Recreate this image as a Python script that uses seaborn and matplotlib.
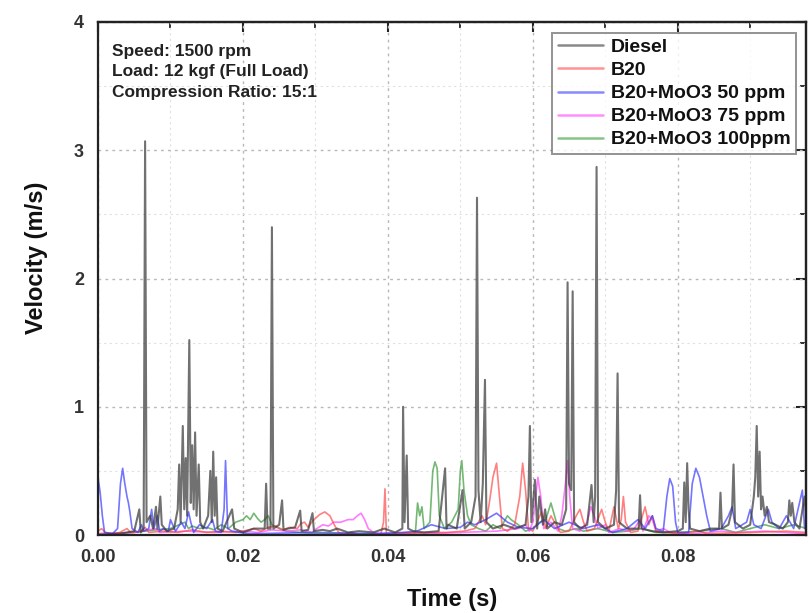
import numpy as np
import pandas as pd
import matplotlib
matplotlib.use("Agg")
import matplotlib.pyplot as plt
from matplotlib.ticker import MultipleLocator, FormatStrFormatter
from matplotlib.lines import Line2D
import seaborn as sns

series_names = ["Diesel", "B20", "B20+MoO3 50 ppm", "B20+MoO3 75 ppm", "B20+MoO3 100ppm"]
series_colors = ["#3a3a3a", "#ff4a4a", "#3a3aff", "#ff44ff", "#3a9a3a"]

diesel_t = [0.0000, 0.0030, 0.0050, 0.0057, 0.0059, 0.0063, 0.0065, 0.0067, 0.0072, 0.0076, 0.0080, 0.0082,
            0.0086, 0.0088, 0.0095, 0.0105, 0.0110, 0.0112, 0.0114, 0.0117, 0.0119, 0.0121, 0.0123, 0.0126,
            0.0128, 0.0130, 0.0132, 0.0134, 0.0136, 0.0139, 0.0141, 0.0145, 0.0152, 0.0155, 0.0157, 0.0159,
            0.0161, 0.0163, 0.0165, 0.0172, 0.0185, 0.0188, 0.0200, 0.0215, 0.0230, 0.0232, 0.0234, 0.0238,
            0.0240, 0.0242, 0.0250, 0.0254, 0.0256, 0.0262, 0.0272, 0.0279, 0.0281, 0.0290, 0.0296, 0.0298,
            0.0310, 0.0320, 0.0330, 0.0345, 0.0360, 0.0380, 0.0395, 0.0410, 0.0420, 0.0421, 0.0423, 0.0426,
            0.0428, 0.0435, 0.0450, 0.0470, 0.0479, 0.0481, 0.0483, 0.0495, 0.0503, 0.0506, 0.0515, 0.0521,
            0.0523, 0.0525, 0.0528, 0.0531, 0.0534, 0.0536, 0.0545, 0.0560, 0.0575, 0.0590, 0.0594, 0.0596,
            0.0598, 0.0603, 0.0606, 0.0609, 0.0614, 0.0617, 0.0620, 0.0630, 0.0640, 0.0646, 0.0648, 0.0650,
            0.0653, 0.0655, 0.0657, 0.0665, 0.0675, 0.0681, 0.0684, 0.0686, 0.0688, 0.0690, 0.0700, 0.0712,
            0.0715, 0.0717, 0.0719, 0.0730, 0.0740, 0.0746, 0.0748, 0.0750, 0.0765, 0.0780, 0.0800, 0.0807,
            0.0809, 0.0811, 0.0813, 0.0815, 0.0817, 0.0830, 0.0845, 0.0857, 0.0859, 0.0861, 0.0870, 0.0875,
            0.0877, 0.0879, 0.0890, 0.0900, 0.0905, 0.0907, 0.0909, 0.0911, 0.0913, 0.0915, 0.0917, 0.0920,
            0.0923, 0.0926, 0.0935, 0.0945, 0.0952, 0.0954, 0.0956, 0.0958, 0.0961, 0.0968, 0.0975, 0.0978]
diesel_v = [0.00, 0.01, 0.03, 0.20, 0.02, 0.05, 3.07, 0.10, 0.15, 0.05, 0.22, 0.05,
            0.30, 0.08, 0.03, 0.05, 0.20, 0.55, 0.10, 0.85, 0.20, 0.60, 0.15, 1.52,
            0.25, 0.70, 0.20, 0.80, 0.15, 0.55, 0.10, 0.05, 0.15, 0.50, 0.10, 0.65,
            0.15, 0.45, 0.05, 0.03, 0.20, 0.05, 0.02, 0.05, 0.05, 0.40, 0.05, 0.05,
            2.40, 0.05, 0.08, 0.27, 0.04, 0.05, 0.06, 0.19, 0.03, 0.04, 0.17, 0.03,
            0.04, 0.03, 0.05, 0.02, 0.03, 0.02, 0.05, 0.02, 0.05, 1.00, 0.10, 0.62,
            0.05, 0.03, 0.02, 0.03, 0.52, 0.05, 0.08, 0.05, 0.35, 0.05, 0.10, 0.30,
            2.63, 0.35, 0.10, 0.40, 1.21, 0.10, 0.05, 0.08, 0.05, 0.08, 0.30, 0.85,
            0.10, 0.43, 0.05, 0.30, 0.08, 0.20, 0.05, 0.10, 0.08, 0.20, 1.97, 0.40,
            0.35, 1.90, 0.10, 0.05, 0.08, 0.39, 0.10, 0.30, 2.87, 0.10, 0.05, 0.08,
            0.35, 1.26, 0.10, 0.05, 0.05, 0.05, 0.31, 0.05, 0.03, 0.02, 0.03, 0.05,
            0.41, 0.10, 0.56, 0.20, 0.05, 0.03, 0.05, 0.05, 0.33, 0.05, 0.08, 0.20,
            0.55, 0.10, 0.05, 0.08, 0.30, 0.45, 0.85, 0.30, 0.65, 0.20, 0.30, 0.15,
            0.22, 0.10, 0.08, 0.05, 0.10, 0.27, 0.15, 0.25, 0.10, 0.05, 0.30, 0.10]

b20_t = [0.0000, 0.0005, 0.0010, 0.0020, 0.0030, 0.0040, 0.0045, 0.0060, 0.0065, 0.0070, 0.0090, 0.0110,
         0.0130, 0.0150, 0.0170, 0.0190, 0.0200, 0.0215, 0.0225, 0.0235, 0.0245, 0.0255, 0.0265, 0.0275,
         0.0280, 0.0285, 0.0290, 0.0295, 0.0300, 0.0306, 0.0313, 0.0320, 0.0326, 0.0332, 0.0340, 0.0350,
         0.0360, 0.0390, 0.0394, 0.0396, 0.0398, 0.0410, 0.0450, 0.0480, 0.0505, 0.0520, 0.0530, 0.0535,
         0.0540, 0.0545, 0.0550, 0.0554, 0.0558, 0.0565, 0.0575, 0.0582, 0.0586, 0.0590, 0.0594, 0.0600,
         0.0606, 0.0612, 0.0618, 0.0625, 0.0630, 0.0638, 0.0650, 0.0660, 0.0665, 0.0670, 0.0675, 0.0685,
         0.0695, 0.0700, 0.0705, 0.0712, 0.0718, 0.0722, 0.0725, 0.0728, 0.0735, 0.0745, 0.0755, 0.0760,
         0.0765, 0.0770, 0.0800, 0.0830, 0.0840, 0.0900, 0.0950, 0.0978]
b20_v = [0.03, 0.05, 0.02, 0.01, 0.02, 0.05, 0.02, 0.03, 0.06, 0.02, 0.03, 0.02,
         0.04, 0.02, 0.03, 0.02, 0.03, 0.05, 0.03, 0.06, 0.07, 0.04, 0.06, 0.05,
         0.09, 0.10, 0.06, 0.10, 0.13, 0.16, 0.18, 0.15, 0.08, 0.02, 0.01, 0.02,
         0.00, 0.00, 0.10, 0.36, 0.00, 0.01, 0.02, 0.02, 0.03, 0.05, 0.15, 0.08,
         0.25, 0.45, 0.56, 0.30, 0.05, 0.03, 0.08, 0.30, 0.56, 0.35, 0.05, 0.03,
         0.10, 0.18, 0.05, 0.15, 0.10, 0.02, 0.03, 0.15, 0.20, 0.10, 0.03, 0.05,
         0.20, 0.10, 0.03, 0.22, 0.05, 0.12, 0.30, 0.10, 0.02, 0.03, 0.22, 0.08,
         0.15, 0.03, 0.01, 0.03, 0.01, 0.02, 0.03, 0.02]

b50_t = [0.0000, 0.0003, 0.0006, 0.0009, 0.0020, 0.0027, 0.0031, 0.0034, 0.0037, 0.0040, 0.0042, 0.0044,
         0.0047, 0.0055, 0.0060, 0.0063, 0.0070, 0.0074, 0.0077, 0.0082, 0.0085, 0.0090, 0.0097, 0.0100,
         0.0103, 0.0107, 0.0115, 0.0120, 0.0125, 0.0128, 0.0132, 0.0140, 0.0150, 0.0158, 0.0162, 0.0170,
         0.0174, 0.0176, 0.0179, 0.0185, 0.0195, 0.0210, 0.0300, 0.0380, 0.0420, 0.0440, 0.0460, 0.0480,
         0.0500, 0.0510, 0.0520, 0.0535, 0.0550, 0.0565, 0.0580, 0.0600, 0.0615, 0.0630, 0.0650, 0.0670,
         0.0690, 0.0710, 0.0730, 0.0745, 0.0755, 0.0765, 0.0770, 0.0780, 0.0785, 0.0789, 0.0793, 0.0797,
         0.0800, 0.0815, 0.0820, 0.0825, 0.0830, 0.0835, 0.0840, 0.0845, 0.0860, 0.0870, 0.0875, 0.0880,
         0.0895, 0.0900, 0.0905, 0.0915, 0.0925, 0.0930, 0.0940, 0.0950, 0.0960, 0.0972, 0.0975, 0.0978]
b50_v = [0.45, 0.33, 0.15, 0.02, 0.01, 0.05, 0.40, 0.52, 0.40, 0.30, 0.25, 0.18,
         0.05, 0.02, 0.08, 0.03, 0.05, 0.20, 0.05, 0.15, 0.03, 0.05, 0.03, 0.12,
         0.08, 0.03, 0.10, 0.05, 0.18, 0.10, 0.02, 0.08, 0.05, 0.12, 0.03, 0.02,
         0.20, 0.58, 0.05, 0.03, 0.02, 0.01, 0.02, 0.01, 0.02, 0.03, 0.08, 0.05,
         0.06, 0.10, 0.08, 0.12, 0.17, 0.10, 0.06, 0.05, 0.12, 0.05, 0.10, 0.05,
         0.08, 0.02, 0.05, 0.12, 0.05, 0.15, 0.05, 0.03, 0.30, 0.44, 0.38, 0.10,
         0.02, 0.02, 0.40, 0.52, 0.45, 0.30, 0.15, 0.03, 0.05, 0.15, 0.22, 0.05,
         0.10, 0.20, 0.08, 0.05, 0.20, 0.10, 0.05, 0.15, 0.05, 0.35, 0.05, 0.10]

b75_t = [0.0000, 0.0050, 0.0080, 0.0085, 0.0120, 0.0160, 0.0200, 0.0220, 0.0240, 0.0260, 0.0280, 0.0295,
         0.0302, 0.0310, 0.0318, 0.0325, 0.0335, 0.0345, 0.0352, 0.0358, 0.0363, 0.0368, 0.0373, 0.0380,
         0.0390, 0.0450, 0.0500, 0.0550, 0.0580, 0.0590, 0.0595, 0.0600, 0.0603, 0.0607, 0.0611, 0.0615,
         0.0625, 0.0635, 0.0640, 0.0645, 0.0648, 0.0651, 0.0655, 0.0665, 0.0675, 0.0680, 0.0685, 0.0690,
         0.0700, 0.0705, 0.0720, 0.0730, 0.0740, 0.0748, 0.0752, 0.0760, 0.0765, 0.0770, 0.0780, 0.0790,
         0.0820, 0.0860, 0.0880, 0.0920, 0.0978]
b75_v = [0.01, 0.02, 0.05, 0.02, 0.03, 0.02, 0.03, 0.02, 0.04, 0.03, 0.04, 0.02,
         0.05, 0.08, 0.07, 0.10, 0.10, 0.12, 0.12, 0.15, 0.17, 0.12, 0.05, 0.02,
         0.01, 0.01, 0.02, 0.03, 0.05, 0.08, 0.03, 0.10, 0.25, 0.45, 0.30, 0.05,
         0.10, 0.03, 0.15, 0.40, 0.58, 0.30, 0.05, 0.03, 0.10, 0.22, 0.15, 0.05,
         0.08, 0.02, 0.05, 0.03, 0.05, 0.12, 0.03, 0.15, 0.12, 0.03, 0.05, 0.02,
         0.01, 0.03, 0.02, 0.03, 0.01]

b100_t = [0.0000, 0.0050, 0.0080, 0.0100, 0.0120, 0.0125, 0.0130, 0.0140, 0.0150, 0.0160, 0.0170, 0.0180,
          0.0190, 0.0200, 0.0205, 0.0210, 0.0215, 0.0220, 0.0225, 0.0230, 0.0235, 0.0240, 0.0250, 0.0260,
          0.0280, 0.0300, 0.0400, 0.0438, 0.0441, 0.0444, 0.0447, 0.0450, 0.0458, 0.0462, 0.0465, 0.0468,
          0.0471, 0.0478, 0.0488, 0.0497, 0.0500, 0.0502, 0.0505, 0.0510, 0.0515, 0.0525, 0.0535, 0.0545,
          0.0555, 0.0565, 0.0570, 0.0580, 0.0590, 0.0600, 0.0610, 0.0618, 0.0625, 0.0630, 0.0635, 0.0645,
          0.0660, 0.0670, 0.0690, 0.0710, 0.0730, 0.0750, 0.0770, 0.0800, 0.0830, 0.0860, 0.0880, 0.0900,
          0.0920, 0.0940, 0.0960, 0.0978]
b100_v = [0.01, 0.02, 0.04, 0.05, 0.10, 0.05, 0.07, 0.05, 0.06, 0.04, 0.08, 0.05,
          0.10, 0.12, 0.15, 0.12, 0.17, 0.13, 0.10, 0.12, 0.15, 0.08, 0.05, 0.03,
          0.02, 0.01, 0.01, 0.02, 0.25, 0.15, 0.22, 0.05, 0.10, 0.50, 0.57, 0.52,
          0.15, 0.05, 0.10, 0.20, 0.50, 0.58, 0.35, 0.15, 0.08, 0.05, 0.03, 0.08,
          0.05, 0.15, 0.12, 0.08, 0.03, 0.05, 0.10, 0.12, 0.25, 0.15, 0.05, 0.03,
          0.05, 0.03, 0.05, 0.02, 0.03, 0.05, 0.02, 0.02, 0.03, 0.05, 0.02, 0.05,
          0.08, 0.05, 0.08, 0.05]

all_t = [diesel_t, b20_t, b50_t, b75_t, b100_t]
all_v = [diesel_v, b20_v, b50_v, b75_v, b100_v]

frames = []
for name, t, v in zip(series_names, all_t, all_v):
    frames.append(pd.DataFrame({"Time": t, "Velocity": v, "Fuel": name}))
df = pd.concat(frames, ignore_index=True)

sns.set_theme(style="white")
plt.rcParams["font.family"] = ["Liberation Sans", "DejaVu Sans"]
plt.rcParams["font.weight"] = "bold"

fig = plt.figure(figsize=(8.09, 6.13), dpi=100)
ax = fig.add_axes([98 / 809, 1 - 535 / 613, (806 - 98) / 809, (535 - 22) / 613])

draw_order = ["B20+MoO3 100ppm", "B20+MoO3 75 ppm", "B20", "B20+MoO3 50 ppm", "Diesel"]
palette = dict(zip(series_names, series_colors))
for name in draw_order:
    sub = df[df["Fuel"] == name]
    sns.lineplot(data=sub, x="Time", y="Velocity", color=palette[name], sort=False,
                 estimator=None, lw=1.5 if name == "Diesel" else 1.2,
                 alpha=0.72 if name == "Diesel" else 0.7, ax=ax, legend=False)

ax.set_xlim(0, 0.0977)
ax.set_ylim(0, 4)
ax.xaxis.set_major_locator(MultipleLocator(0.02))
ax.xaxis.set_minor_locator(MultipleLocator(0.01))
ax.yaxis.set_major_locator(MultipleLocator(1))
ax.yaxis.set_minor_locator(MultipleLocator(0.5))
ax.xaxis.set_major_formatter(FormatStrFormatter("%.2f"))

ax.grid(which="major", color="#b8b8b8", linestyle=(0, (2, 3)), linewidth=1.0)
ax.grid(which="minor", color="#e0e0e0", linestyle=(0, (2, 3)), linewidth=0.8)
ax.set_axisbelow(True)

for s in ax.spines.values():
    s.set_visible(True)
    s.set_color("#222222")
    s.set_linewidth(1.6)

ax.tick_params(axis="both", which="major", direction="out", length=7, width=1.5,
               colors="#222222", labelcolor="#333333", labelsize=13, pad=3)
ax.tick_params(axis="both", which="minor", direction="out", length=4, width=1.3, colors="#222222")
for tl in ax.get_xticklabels() + ax.get_yticklabels():
    tl.set_fontweight("bold")

sec_top = ax.secondary_xaxis("top")
sec_top.xaxis.set_major_locator(MultipleLocator(0.02))
sec_top.xaxis.set_minor_locator(MultipleLocator(0.01))
sec_top.tick_params(which="major", direction="in", length=7, width=1.5, labeltop=False, colors="#222222")
sec_top.tick_params(which="minor", direction="in", length=4, width=1.3, colors="#222222")
sec_top.spines["top"].set_linewidth(1.6)
sec_top.spines["top"].set_color("#222222")
ax.tick_params(axis="x", which="both", top=False)
sec_r = ax.secondary_yaxis("right")
sec_r.yaxis.set_major_locator(MultipleLocator(1))
sec_r.yaxis.set_minor_locator(MultipleLocator(0.5))
sec_r.tick_params(which="major", direction="in", length=7, width=1.5, labelright=False, colors="#222222")
sec_r.tick_params(which="minor", direction="in", length=4, width=1.3, colors="#222222")
sec_r.spines["right"].set_linewidth(1.6)
sec_r.spines["right"].set_color("#222222")
ax.tick_params(axis="y", which="both", right=False)

ax.set_xlabel("Time (s)", fontsize=17, fontweight="bold", color="#111111", labelpad=16)
ax.set_ylabel("Velocity (m/s)", fontsize=17, fontweight="bold", color="#111111")
ax.yaxis.set_label_coords(-0.07, 0.54)

ax.text(0.02, 0.957, "Speed: 1500 rpm\nLoad: 12 kgf (Full Load)\nCompression Ratio: 15:1",
        transform=ax.transAxes, ha="left", va="top", fontsize=12.5, fontweight="bold",
        color="#222222", linespacing=1.45)

handles = [Line2D([0], [0], color=c, lw=1.8, alpha=0.6) for c in series_colors]
leg = ax.legend(handles, series_names, loc="upper right", bbox_to_anchor=(0.986, 0.979),
                fontsize=14, frameon=True, fancybox=False, edgecolor="#777777",
                handlelength=2.3, labelspacing=0.28, borderpad=0.3, handletextpad=0.4,
                borderaxespad=0)
leg.get_frame().set_linewidth(1.4)
for txt in leg.get_texts():
    txt.set_fontweight("bold")
    txt.set_color("#111111")

fig.savefig("out.png", dpi=100)
